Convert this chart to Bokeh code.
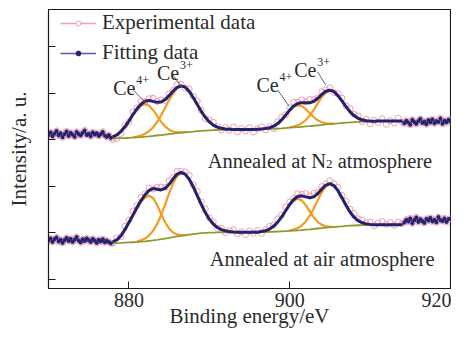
import numpy as np
from bokeh.plotting import figure
from bokeh.models import Range1d, FixedTicker, Label, Legend, LegendItem
from bokeh.embed import file_html
from bokeh.resources import INLINE

# ---------------- data ----------------
FIT_START = 878.0      # eV, first point of the fitted window
FIT_STEP = 0.5         # eV
NOISE_STEP = 0.25      # eV
LEFT_START = 870.0
RIGHT_START = 914.25

# Shirley-type backgrounds on the fit grid (878.0 ... 914.0 eV)
base_n2 = [3.030, 3.032, 3.035, 3.037, 3.040, 3.045, 3.050, 3.057, 3.065, 3.072,
           3.080, 3.090, 3.100, 3.110, 3.120, 3.130, 3.140, 3.150, 3.160, 3.168,
           3.175, 3.183, 3.190, 3.195, 3.200, 3.205, 3.210, 3.213, 3.215, 3.218,
           3.220, 3.220, 3.220, 3.220, 3.220, 3.222, 3.225, 3.228, 3.230, 3.232,
           3.235, 3.240, 3.245, 3.252, 3.260, 3.265, 3.270, 3.278, 3.285, 3.292,
           3.300, 3.310, 3.320, 3.328, 3.335, 3.342, 3.350, 3.358, 3.365, 3.372,
           3.380, 3.385, 3.390, 3.392, 3.395, 3.398, 3.400, 3.400, 3.400, 3.400,
           3.400, 3.400, 3.400]
base_air = [0.775, 0.777, 0.780, 0.785, 0.790, 0.795, 0.800, 0.807, 0.815, 0.825,
            0.835, 0.847, 0.860, 0.875, 0.890, 0.905, 0.920, 0.932, 0.945, 0.958,
            0.970, 0.980, 0.990, 0.995, 1.000, 1.003, 1.005, 1.008, 1.010, 1.010,
            1.010, 1.010, 1.010, 1.010, 1.010, 1.010, 1.010, 1.012, 1.015, 1.017,
            1.020, 1.025, 1.030, 1.035, 1.040, 1.045, 1.050, 1.057, 1.065, 1.072,
            1.080, 1.090, 1.100, 1.107, 1.115, 1.122, 1.130, 1.137, 1.145, 1.150,
            1.155, 1.160, 1.165, 1.167, 1.170, 1.170, 1.170, 1.170, 1.170, 1.170,
            1.170, 1.170, 1.170]

# fitted components: (start energy, heights above background every 0.5 eV)
n2_ce4_a = (878.0, [0.03, 0.07, 0.14, 0.24, 0.36, 0.49, 0.600, 0.673, 0.700, 0.662,
                    0.561, 0.425, 0.288, 0.175, 0.095, 0.046, 0.020, 0.008, 0.003])
n2_ce3_a = (880.5, [0.007, 0.015, 0.031, 0.061, 0.109, 0.183, 0.288, 0.421, 0.575,
                    0.732, 0.871, 0.966, 1.000, 0.966, 0.871, 0.732, 0.575, 0.421,
                    0.288, 0.183, 0.109, 0.061, 0.031, 0.015, 0.007])
n2_ce4_b = (897.0, [0.010, 0.026, 0.055, 0.106, 0.181, 0.275, 0.370, 0.443, 0.470,
                    0.443, 0.370, 0.275, 0.181, 0.106, 0.055, 0.026, 0.010, 0.004])
n2_ce3_b = (900.0, [0.007, 0.017, 0.038, 0.076, 0.138, 0.228, 0.345, 0.476, 0.599,
                    0.688, 0.720, 0.688, 0.599, 0.476, 0.345, 0.228, 0.138, 0.076,
                    0.038, 0.017, 0.007])
air_ce4_a = (878.0, [0.03, 0.07, 0.15, 0.28, 0.43, 0.58, 0.73, 0.855, 0.94, 0.97,
                     0.910, 0.752, 0.546, 0.350, 0.197, 0.098, 0.043, 0.016, 0.006])
air_ce3_a = (881.0, [0.013, 0.028, 0.059, 0.114, 0.204, 0.337, 0.514, 0.728, 0.954,
                     1.157, 1.299, 1.350, 1.308, 1.191, 1.019, 0.819, 0.618, 0.438,
                     0.292, 0.183, 0.107, 0.059, 0.031, 0.015, 0.007])
air_ce4_b = (896.5, [0.013, 0.030, 0.062, 0.117, 0.201, 0.311, 0.438, 0.560, 0.647,
                     0.680, 0.638, 0.527, 0.383, 0.245, 0.138, 0.068, 0.030, 0.011, 0.004])
air_ce3_b = (900.0, [0.009, 0.023, 0.049, 0.098, 0.178, 0.295, 0.446, 0.615, 0.774,
                     0.888, 0.930, 0.888, 0.774, 0.615, 0.446, 0.295, 0.178, 0.098,
                     0.049, 0.023, 0.009])

# experimental minus fit inside the fit window
resid_n2 = [-0.05, -0.07, -0.04, 0.03, -0.02, 0.05, 0.02, 0.06, -0.01, 0.04,
            0.07, 0.02, 0.05, -0.02, 0.04, 0.01, 0.06, 0.03, -0.02, 0.05,
            0.03, 0.07, 0.02, -0.03, 0.04, 0.06, 0.01, -0.04, 0.03, -0.02,
            0.05, -0.05, 0.02, -0.03, 0.04, -0.06, 0.01, 0.05, -0.03, 0.02,
            -0.05, 0.04, 0.06, 0.01, 0.05, 0.08, 0.03, 0.06, 0.02, 0.07,
            0.04, 0.01, 0.06, 0.03, 0.05, -0.02, 0.04, 0.06, 0.02, 0.07,
            0.03, 0.05, -0.04, 0.03, -0.06, 0.02, -0.03, 0.05, -0.07, 0.01,
            -0.04, 0.06, -0.02]
resid_air = [-0.03, 0.04, -0.02, 0.07, 0.05, 0.09, 0.04, 0.07, 0.02, 0.05,
             -0.01, 0.04, 0.06, 0.02, 0.07, 0.03, 0.06, 0.02, 0.05, 0.08,
             0.04, 0.09, 0.06, 0.08, 0.03, 0.05, -0.02, 0.03, -0.04, 0.02,
             0.05, -0.03, 0.01, -0.05, 0.03, -0.02, 0.04, -0.04, 0.02, 0.06,
             0.03, 0.07, 0.04, 0.08, 0.05, 0.02, 0.06, 0.03, 0.07, 0.04,
             0.08, 0.03, 0.05, 0.02, 0.06, 0.04, 0.07, 0.05, 0.09, 0.06,
             0.08, 0.04, 0.06, 0.02, 0.05, -0.02, 0.04, 0.07, 0.01, 0.05,
             -0.01, 0.06, 0.03]

# raw data outside the fit window (every 0.25 eV)
left_n2 = [3.10, 3.16, 3.07, 3.13, 3.19, 3.09, 3.14, 3.05, 3.12, 3.18, 3.08, 3.15,
           3.11, 3.06, 3.17, 3.12, 3.09, 3.15, 3.20, 3.10, 3.13, 3.07, 3.16, 3.11,
           3.14, 3.08, 3.12, 3.17, 3.09, 3.06, 3.10, 3.04]
right_n2 = [3.35, 3.41, 3.37, 3.32, 3.43, 3.38, 3.34, 3.40, 3.45, 3.36, 3.39, 3.33,
            3.42, 3.37, 3.44, 3.35, 3.40, 3.38, 3.46, 3.34, 3.41, 3.37, 3.43, 3.39]
left_air = [0.83, 0.88, 0.80, 0.86, 0.90, 0.81, 0.85, 0.78, 0.84, 0.89, 0.82, 0.87,
            0.80, 0.85, 0.91, 0.83, 0.79, 0.86, 0.82, 0.88, 0.84, 0.80, 0.87, 0.83,
            0.78, 0.85, 0.81, 0.86, 0.79, 0.83, 0.80, 0.77]
right_air = [1.22, 1.28, 1.24, 1.31, 1.20, 1.27, 1.33, 1.23, 1.29, 1.25, 1.21, 1.30,
             1.26, 1.32, 1.24, 1.28, 1.22, 1.34, 1.27, 1.25, 1.31, 1.23, 1.29, 1.30]

x_ticks = [880, 900, 920]
y_ticks = [0, 1, 2, 3, 4, 5]

# ---------------- styles ----------------
FONT = "'Liberation Serif', serif"
PINK = "#f19db2"
NAVY = "#22226e"
ORANGE = "#f59b1f"
OLIVE = "#8f9a2e"
TXT = "#2b2b2b"

N_FIT = len(base_n2)
e_fit = FIT_START + FIT_STEP * np.arange(N_FIT)
e_left = LEFT_START + NOISE_STEP * np.arange(len(left_n2))
e_right = RIGHT_START + NOISE_STEP * np.arange(len(right_n2))

p = figure(width=451, height=330, x_range=Range1d(870, 920), y_range=Range1d(-0.2, 5.8),
           output_backend="svg", toolbar_location=None,
           min_border_left=48, min_border_right=1, min_border_top=9, min_border_bottom=40)
p.background_fill_color = "white"
p.border_fill_color = "white"
p.xgrid.visible = False
p.ygrid.visible = False
p.outline_line_color = "#1a1a1a"
p.outline_line_width = 1.2


def draw_spectrum(base, comps, resid, left, right):
    base = np.array(base)
    fit = base.copy()
    comp_lines = []
    for start, h in comps:
        i0 = int(round((start - FIT_START) / FIT_STEP))
        h = np.array(h)
        fit[i0:i0 + len(h)] += h
        comp_lines.append((e_fit[i0:i0 + len(h)], base[i0:i0 + len(h)] + h))
    expv = fit + np.array(resid)
    x_exp = np.concatenate([e_left, e_fit, e_right])
    y_exp = np.concatenate([left, expv, right])
    p.scatter(x_exp, y_exp, marker="circle", size=6, line_color=PINK, line_width=1,
              fill_alpha=0)
    for xs, ys in comp_lines:
        p.line(xs, ys, line_color=ORANGE, line_width=2.2)
    p.line(e_fit, base, line_color=OLIVE, line_width=1.8)
    # fitting data: raw outside the window, smooth fit inside
    p.line(np.concatenate([e_left, [e_fit[0]]]), np.concatenate([left, [fit[0]]]),
           line_color=NAVY, line_width=1.4)
    p.line(np.concatenate([[e_fit[-1]], e_right]), np.concatenate([[fit[-1]], right]),
           line_color=NAVY, line_width=1.4)
    p.scatter(np.concatenate([e_left, e_right]), np.concatenate([left, right]),
              marker="circle", size=3.2, color=NAVY)
    p.line(e_fit, fit, line_color=NAVY, line_width=3)


draw_spectrum(base_n2, [n2_ce4_a, n2_ce3_a, n2_ce4_b, n2_ce3_b], resid_n2, left_n2, right_n2)
draw_spectrum(base_air, [air_ce4_a, air_ce3_a, air_ce4_b, air_ce3_b], resid_air, left_air, right_air)

# ---------------- axes ----------------
p.xaxis.ticker = FixedTicker(ticks=x_ticks)
p.yaxis.ticker = FixedTicker(ticks=y_ticks)
p.yaxis.major_label_overrides = {t: "" for t in y_ticks}
for ax in (p.xaxis, p.yaxis):
    ax.major_tick_in = 7
    ax.major_tick_out = 0
    ax.minor_tick_line_color = None
    ax.axis_line_color = "#1a1a1a"
    ax.major_tick_line_color = "#1a1a1a"
    ax.major_label_text_font = FONT
    ax.major_label_text_font_size = "20px"
    ax.major_label_text_color = TXT
    ax.axis_label_text_font = FONT
    ax.axis_label_text_font_size = "21px"
    ax.axis_label_text_font_style = "normal"
    ax.axis_label_text_color = TXT
p.xaxis.axis_label = "Binding energy/eV"
p.xaxis.major_label_standoff = 4
p.xaxis.axis_label_standoff = -6
p.yaxis.axis_label = "Intensity/a. u."
p.yaxis.major_label_standoff = 0
p.yaxis.axis_label_standoff = 18

EV_PER_PX = 50 / 402
U_PER_PX = 6 / 281

# ---------------- legend ----------------
r1 = p.line([800, 801], [0, 0], line_color=PINK, line_width=1.3)
r2 = p.scatter([800], [0], marker="circle", size=5, line_color=PINK, fill_color="white")
r3 = p.line([800, 801], [0, 0], line_color="#5a5aa8", line_width=1.3)
r4 = p.scatter([800], [0], marker="circle", size=4, color=NAVY)
legend = Legend(items=[LegendItem(label="Experimental data", renderers=[r1, r2]),
                       LegendItem(label="Fitting data", renderers=[r3, r4])],
                location=(12, 223), border_line_color=None, background_fill_alpha=0,
                label_text_font=FONT, label_text_font_size="21px", label_text_color=TXT,
                glyph_width=36, glyph_height=12, label_height=12, spacing=5,
                padding=0, margin=0, label_standoff=6)
p.add_layout(legend)

# ---------------- annotations ----------------
ce_labels = [(878.04, 4.113, "4+"), (883.49, 4.434, "3+"),
             (895.87, 4.177, "4+"), (900.57, 4.498, "3+")]
for x, y, sup in ce_labels:
    p.add_layout(Label(x=x, y=y, text="Ce", text_font=FONT, text_font_size="20px",
                       text_color=TXT, text_baseline="alphabetic"))
    p.add_layout(Label(x=x + 23 * EV_PER_PX, y=y + 8 * U_PER_PX, text=sup, text_font=FONT,
                       text_font_size="12px", text_color=TXT, text_baseline="alphabetic"))

lead_x0 = [880.52, 885.47, 898.50, 903.45]
lead_y0 = [4.070, 4.391, 4.070, 4.461]
lead_x1 = [882.13, 886.55, 899.95, 904.49]
lead_y1 = [3.793, 4.141, 3.714, 4.177]
p.segment(lead_x0, lead_y0, lead_x1, lead_y1, line_color="#666666", line_width=1)

tx, ty = 889.80, 2.540
p.add_layout(Label(x=tx, y=ty, text="Annealed at N", text_font=FONT, text_font_size="20.5px",
                   text_color=TXT, text_baseline="alphabetic"))
p.add_layout(Label(x=tx + 118.4 * EV_PER_PX, y=ty - 3 * U_PER_PX, text="2", text_font=FONT,
                   text_font_size="13px", text_color=TXT, text_baseline="alphabetic"))
p.add_layout(Label(x=tx + 130 * EV_PER_PX, y=ty, text="atmosphere", text_font=FONT,
                   text_font_size="20.5px", text_color=TXT, text_baseline="alphabetic"))
p.add_layout(Label(x=890.05, y=0.426, text="Annealed at air atmosphere", text_font=FONT,
                   text_font_size="20.5px", text_color=TXT, text_baseline="alphabetic"))

open("out.html", "w").write(file_html(p, INLINE))
